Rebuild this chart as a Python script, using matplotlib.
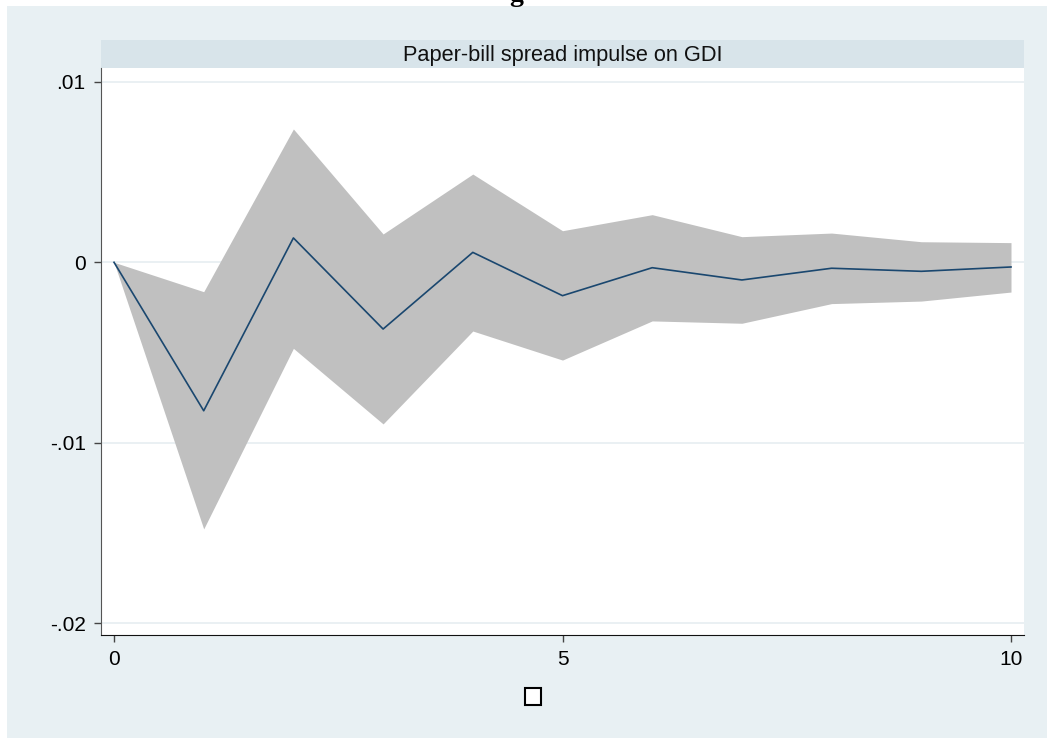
import matplotlib.pyplot as plt
from matplotlib.patches import Rectangle

# Impulse response of GDI to a paper-bill spread shock, with confidence band
steps = [0, 1, 2, 3, 4, 5, 6, 7, 8, 9, 10]
irf = [0.0, -0.00823, 0.00135, -0.00370, 0.00055, -0.00185, -0.00030,
       -0.00098, -0.00033, -0.00050, -0.00026]
upper = [0.0, -0.00163, 0.00739, 0.00157, 0.00489, 0.00175, 0.00264,
         0.00142, 0.00162, 0.00114, 0.00109]
lower = [0.0, -0.01478, -0.00477, -0.00896, -0.00381, -0.00542, -0.00325,
         -0.00338, -0.00229, -0.00215, -0.00165]

yticks = [0.01, 0, -0.01, -0.02]
ytick_labels = ['.01', '0', '-.01', '-.02']
xticks = [0, 5, 10]
panel_title = 'Paper-bill spread impulse on GDI'

W, H = 1047, 738
bg = '#e8f0f3'
strip = '#d8e4ea'

plt.rcParams['font.family'] = ['Liberation Sans', 'DejaVu Sans']

fig = plt.figure(figsize=(W / 100, H / 100), dpi=100, facecolor='white')

# graph region background
fig.patches.append(Rectangle((7 / W, 0), (W - 7) / W, (H - 6) / H,
                             transform=fig.transFigure, facecolor=bg,
                             edgecolor='none', zorder=-2))

# cut-off graph title at the very top
fig.text(516 / W, 1 - 1 / H, 'g', family='Liberation Serif', weight='bold',
         fontsize=20, ha='center', va='baseline')

# panel strip
fig.patches.append(Rectangle((101 / W, 1 - 68 / H), 923 / W, 28 / H,
                             transform=fig.transFigure, facecolor=strip,
                             edgecolor='none', zorder=-1))
fig.text((101 + 923 / 2) / W, 1 - 55 / H, panel_title, fontsize=15.7,
         ha='center', va='center', color='#111111')

ax = fig.add_axes([101 / W, 1 - 635 / H, 923 / W, 567 / H])
ax.set_facecolor('white')

ax.fill_between(steps, lower, upper, color='#c0c0c0', linewidth=0, zorder=2)
ax.plot(steps, irf, color='#1a476f', linewidth=1.2, zorder=3)

ax.set_xlim(-0.145, 10.145)
ax.set_ylim(-0.02066, 0.01077)

ax.set_yticks(yticks)
ax.set_yticklabels(ytick_labels)
ax.set_xticks(xticks)
ax.grid(axis='y', color='#e6eef1', linewidth=1.2, zorder=1)
ax.set_axisbelow(True)

for s in ['top', 'right']:
    ax.spines[s].set_visible(False)
ax.spines['left'].set_color('#555555')
ax.spines['bottom'].set_color('#111111')
ax.tick_params(axis='both', direction='out', length=5, width=1,
               color='#444444', labelsize=15, labelcolor='black', pad=6)

# empty legend key below the plot
fig.patches.append(Rectangle((525 / W, 1 - 705 / H), 16 / W, 17 / H,
                             transform=fig.transFigure, facecolor='white',
                             edgecolor='black', linewidth=1.5, zorder=2))

fig.savefig('out.png', dpi=100, facecolor='white')
